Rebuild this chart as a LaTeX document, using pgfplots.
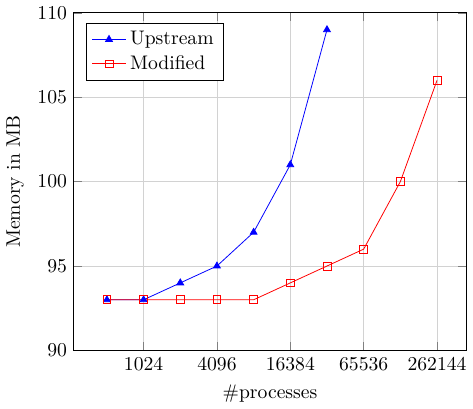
\documentclass[border=0pt]{standalone}
\usepackage{pgfplots}
\pgfplotsset{compat=1.18}
\begin{document}
\begin{tikzpicture}
\begin{axis}[
  scale only axis,
  width=200pt, height=172pt,
  xmode=log, log basis x=2,
  xmin=274, xmax=456000,
  ymin=90, ymax=110,
  xtick={1024,4096,16384,65536,262144},
  xticklabels={1024,4096,16384,65536,262144},
  ytick={90,95,100,105,110},
  grid=major,
  major grid style={gray!35},
  xlabel={\#processes},
  ylabel={Memory in MB},
  legend pos=north west,
  legend cell align=left,
]
\addplot[color=blue, mark=triangle*, mark options={draw=blue, fill=blue}] coordinates {
  (512,93) (1024,93) (2048,94) (4096,95) (8192,97) (16384,101) (32768,109)
};
\addlegendentry{Upstream}
\addplot[color=red, mark=square, mark options={draw=red}] coordinates {
  (512,93) (1024,93) (2048,93) (4096,93) (8192,93) (16384,94) (32768,95)
  (65536,96) (131072,100) (262144,106)
};
\addlegendentry{Modified}
\end{axis}
\end{tikzpicture}
\end{document}
